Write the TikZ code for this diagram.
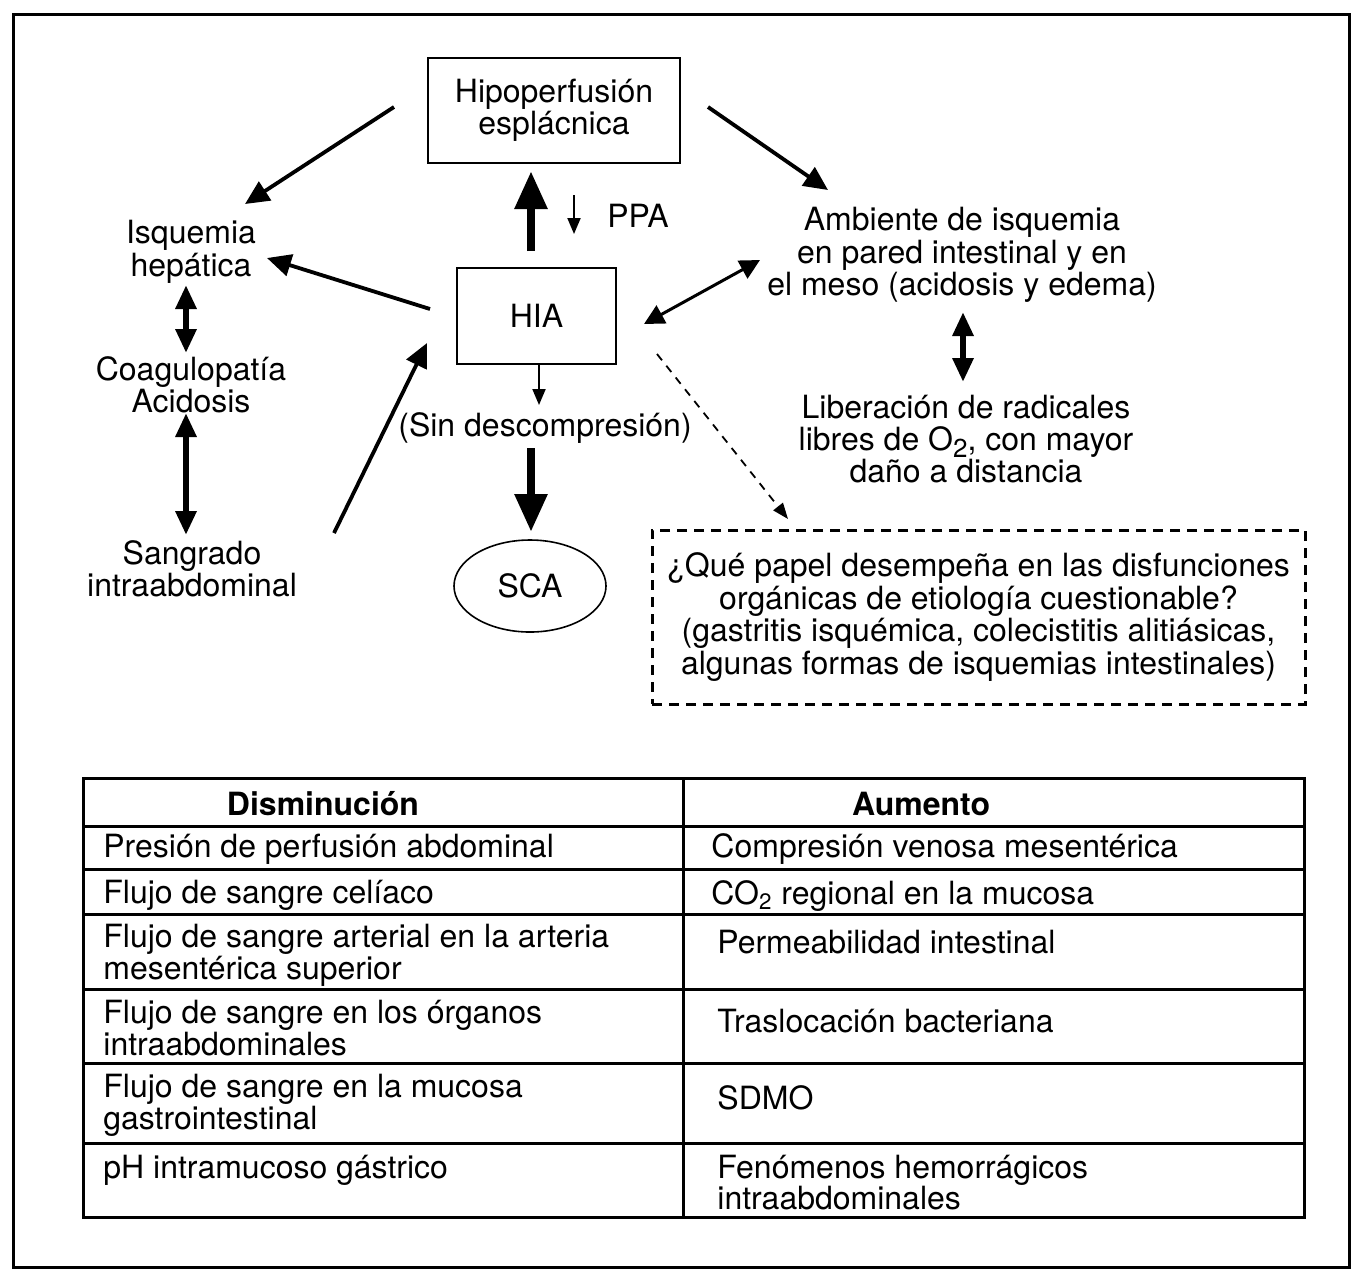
\documentclass[tikz,border=0pt]{standalone}
\usepackage{fontspec}
\setmainfont{TeX Gyre Heros}
\usetikzlibrary{arrows.meta,shapes.geometric}
\newcommand{\fs}{\fontsize{16}{16.2}\selectfont}
\tikzset{
  txt/.style={align=center, inner sep=0pt, font=\fs},
  cell/.style={anchor=base west, inner sep=0pt, font=\fs},
  head/.style={anchor=base, inner sep=0pt, font=\fs\bfseries},
  box/.style={draw, line width=1.4pt, inner sep=0pt, align=center, font=\fs},
  arr/.style={line width=1.9pt, -{Triangle[length=12pt,width=11pt]}},
  darr/.style={line width=1.5pt, {Triangle[length=10pt,width=10pt]}-{Triangle[length=10pt,width=10pt]}},
  tdarr/.style={line width=3.4pt, {Triangle[length=12pt,width=10pt]}-{Triangle[length=12pt,width=10pt]}},
  bigarr/.style={line width=4.3pt, -{Triangle[length=19pt,width=15.5pt]}},
  smallarr/.style={line width=1pt, -{Triangle[length=8pt,width=6.5pt]}},
  dasharr/.style={line width=0.9pt, dash pattern=on 4pt off 3.5pt, -{Triangle[length=8pt,width=6pt]}},
  rule/.style={line width=1.5pt},
}
\begin{document}
\begin{tikzpicture}[x=0.5pt,y=-0.5pt]
\useasboundingbox (0,0) rectangle (1368,1287);
\draw[rule] (13,14) rectangle (1349,1267);

% nodes
\node[box, minimum width=126pt, minimum height=52.5pt] (hipo) at (554,110.5) {Hipoperfusión\\esplácnica};
\node[box, minimum width=79.5pt, minimum height=48pt] (hia) at (536.5,316) {HIA};
\node[draw, ellipse, line width=0.8pt, minimum width=76pt, minimum height=46pt, inner sep=0pt, font=\fs] (sca) at (530,586) {SCA};
\node[box, dash pattern=on 5pt off 3.5pt, line width=1.5pt, minimum width=326.5pt, minimum height=87pt] (que) at (978.5,617)
  {¿Qué papel desempeña en las disfunciones\\orgánicas de etiología cuestionable?\\(gastritis isquémica, colecistitis alitiásicas,\\algunas formas de isquemias intestinales)};
\node[txt] (isq) at (191,252) {Isquemia\\hepática};
\node[txt] (coag) at (191,385) {Coagulopatía\\Acidosis};
\node[txt] (sang) at (192,569) {Sangrado\\intraabdominal};
\node[txt] (ppa) at (638,216) {PPA};
\node[txt] (sin) at (545,428) {(Sin descompresión)};
\node[txt] (amb) at (962,255) {Ambiente de isquemia\\en pared intestinal y en\\el meso (acidosis y edema)};
\node[txt] (lib) at (966,439) {Liberación de radicales\\libres de O\raisebox{-0.45ex}{\fontsize{13}{13}\selectfont 2}, con mayor\\daño a distancia};

% connector end points
\coordinate (hipoL) at (394,107);   \coordinate (isqT) at (245,204);
\coordinate (hiaL) at (430,309);    \coordinate (isqR) at (267,258);
\coordinate (sangR) at (334,533);   \coordinate (hiaBL) at (427,343);
\coordinate (hipoR) at (708,107);   \coordinate (ambT) at (828,190);
\coordinate (hiaR) at (644,324);    \coordinate (ambL) at (760,260);
\coordinate (ambB) at (963,312);    \coordinate (libT) at (963,382);
\coordinate (isqB) at (186,285);    \coordinate (coagT) at (186,353);
\coordinate (coagB) at (186,413);   \coordinate (sangT) at (186,535);
\coordinate (hiaBR) at (657,354);   \coordinate (queT) at (788,519);
\coordinate (hiaB) at (539,364);    \coordinate (sinT) at (539,405);
\coordinate (hiaT) at (531,251);    \coordinate (hipoB) at (531,171);
\coordinate (sinB) at (531,448);    \coordinate (scaT) at (531,532);
\coordinate (ppaA) at (574,195);    \coordinate (ppaB) at (574,234);

\draw[arr] (hipoL) -- (isqT);
\draw[arr] (hiaL) -- (isqR);
\draw[arr] (sangR) -- (hiaBL);
\draw[arr] (hipoR) -- (ambT);
\draw[darr] (hiaR) -- (ambL);
\draw[tdarr] (ambB) -- (libT);
\draw[tdarr] (isqB) -- (coagT);
\draw[tdarr] (coagB) -- (sangT);
\draw[dasharr] (hiaBR) -- (queT);
\draw[smallarr] (hiaB) -- (sinT);
\draw[bigarr] (hiaT) -- (hipoB);
\draw[bigarr] (sinB) -- (scaT);
\draw[smallarr] (ppaA) -- (ppaB);

% table
\draw[rule] (83,778) rectangle (1304,1217);
\draw[rule] (683,778) -- (683,1217);
\foreach \yy in {826,869,914,989,1063,1143} \draw[rule] (83,\yy) -- (1304,\yy);

\node[head] (hd1) at (323,815) {Disminución};
\node[head] (hd2) at (921,815) {Aumento};

\node[cell] (l1) at (103,857) {Presión de perfusión abdominal};
\node[cell] (l2) at (103,903) {Flujo de sangre celíaco};
\node[cell] (l3a) at (103,947) {Flujo de sangre arterial en la arteria};
\node[cell] (l3b) at (103,979) {mesentérica superior};
\node[cell] (l4a) at (103,1023) {Flujo de sangre en los órganos};
\node[cell] (l4b) at (103,1055) {intraabdominales};
\node[cell] (l5a) at (103,1097) {Flujo de sangre en la mucosa};
\node[cell] (l5b) at (103,1129) {gastrointestinal};
\node[cell] (l6) at (103,1178) {pH intramucoso gástrico};

\node[cell] (r1) at (711,857) {Compresión venosa mesentérica};
\node[cell] (r2) at (711,904) {CO\textsubscript{2} regional en la mucosa};
\node[cell] (r3) at (717,953) {Permeabilidad intestinal};
\node[cell] (r4) at (717,1032) {Traslocación bacteriana};
\node[cell] (r5) at (717,1109) {SDMO};
\node[cell] (r6a) at (717,1178) {Fenómenos hemorrágicos};
\node[cell] (r6b) at (717,1209) {intraabdominales};
\end{tikzpicture}
\end{document}
